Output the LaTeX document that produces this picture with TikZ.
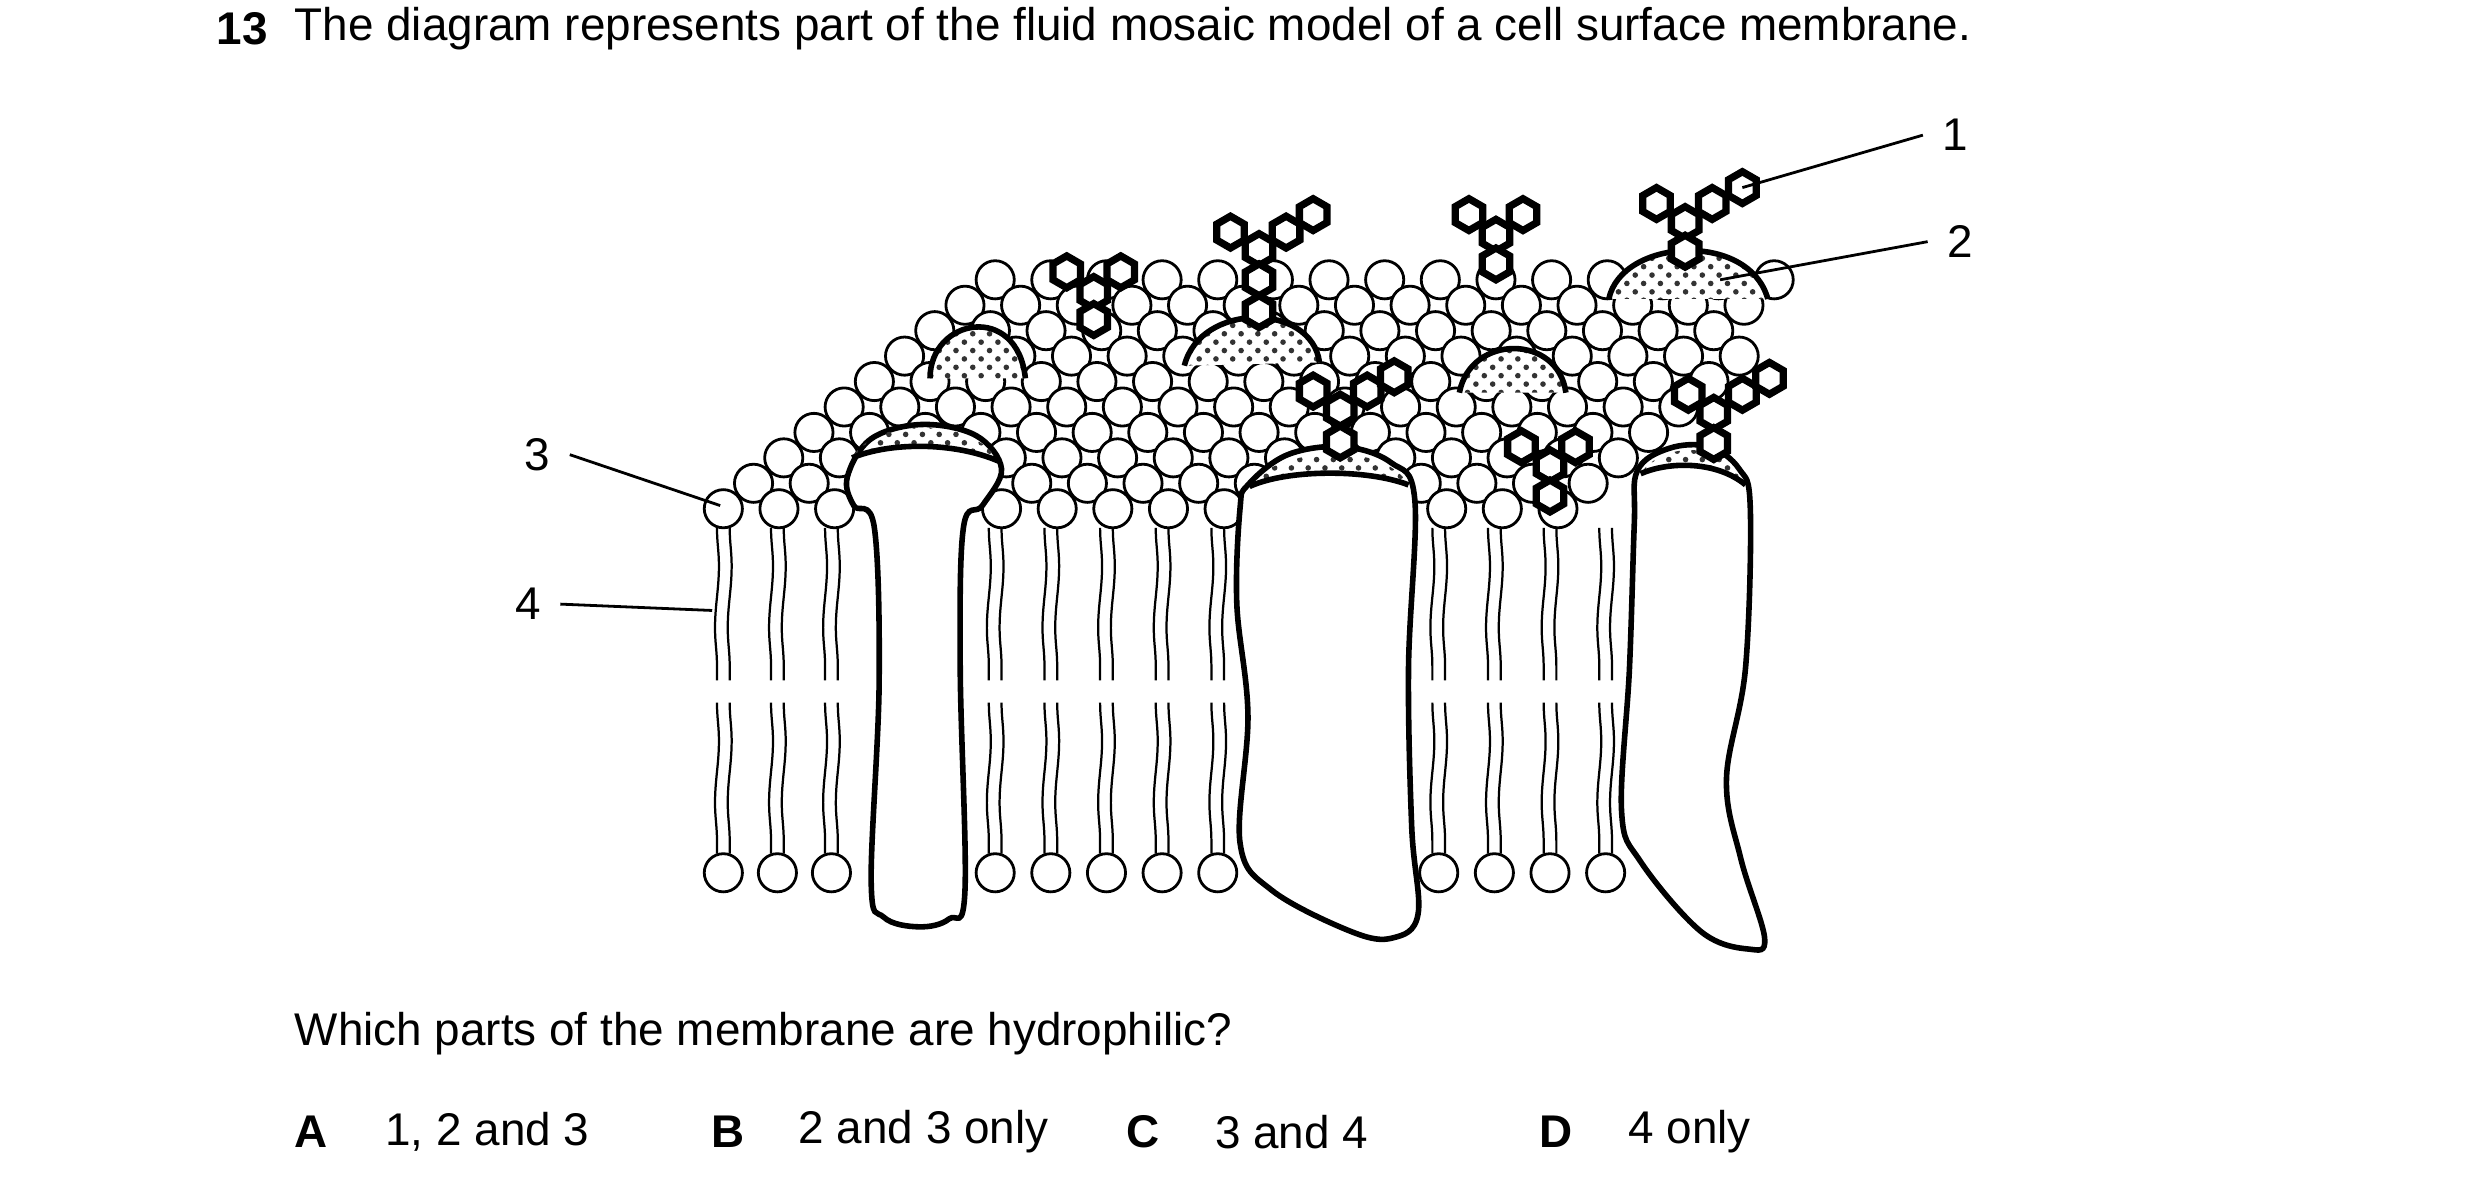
\documentclass[tikz,border=0pt]{standalone}
\usepackage{fontspec}
\setmainfont{Liberation Sans}
\usetikzlibrary{patterns,decorations.pathmorphing}
\tikzset{
  head/.style={draw=black,fill=white,line width=0.5pt},
  tail/.style={line width=0.4pt,decorate,decoration={snake,amplitude=0.35pt,segment length=22pt}},
  prot/.style={draw=black,fill=white,line width=1pt},
  stip/.style={pattern=crosshatch dots,pattern color=black!80},
  hexa/.style={draw=black,line width=1.3pt,fill=white},
  lbl/.style={font=\fontsize{8.2}{10}\selectfont},
  lead/.style={line width=0.5pt}
}
\newcommand{\hexat}[2]{\draw[hexa] (#1,#2) +(30:10) -- +(90:10) -- +(150:10) -- +(210:10) -- +(270:10) -- +(330:10) -- cycle;}
\begin{document}
\begin{tikzpicture}[x=0.01cm,y=-0.01cm]
\useasboundingbox (0,0) rectangle (1560,748);

% question text
\node[lbl,anchor=west,font=\fontsize{8.2}{10}\selectfont\bfseries] (num) at (124,18) {13};
\node[lbl,anchor=west] (title) at (173,18) {The diagram represents part of the fluid mosaic model of a cell surface membrane.};

% tails of the front row
\foreach \x in {455,489,523,626,661,696,731,766,905,940,975,1010}{
  \draw[tail] (\x-4,332) -- (\x-4,428);
  \draw[tail] (\x+4,332) -- (\x+4,428);
  \draw[tail] (\x-4,442) -- (\x-4,537);
  \draw[tail] (\x+4,442) -- (\x+4,537);
  \draw[head] (\x,549) circle (12);
}

% heads, back rows first
\foreach \k in {9,...,0}{
  \foreach \j in {0,...,17}{
    \pgfmathsetmacro{\hx}{455+19*\k+35*\j}
    \pgfmathsetmacro{\hy}{320-16*\k}
    \pgfmathsetmacro{\hend}{1012+14*\k}
    \ifdim \hx pt<\hend pt
      \draw[head] (\hx,\hy) circle (12);
    \fi
  }
}

% peripheral proteins
\fill[white] (585,238) .. controls (585,200) and (640,190) .. (645,238) -- cycle;
\fill[stip] (585,238) .. controls (585,200) and (640,190) .. (645,238) -- cycle;
\draw[line width=1pt] (585,238) .. controls (585,200) and (640,190) .. (645,238);
\fill[white] (745,230) .. controls (755,190) and (825,190) .. (830,228) -- cycle;
\fill[stip] (745,230) .. controls (755,190) and (825,190) .. (830,228) -- cycle;
\draw[line width=1pt] (745,230) .. controls (755,190) and (825,190) .. (830,228);
\fill[white] (918,247) .. controls (925,210) and (980,210) .. (985,247) -- cycle;
\fill[stip] (918,247) .. controls (925,210) and (980,210) .. (985,247) -- cycle;
\draw[line width=1pt] (918,247) .. controls (925,210) and (980,210) .. (985,247);
\fill[white] (1012,188) .. controls (1020,150) and (1100,145) .. (1112,188) -- cycle;
\fill[stip] (1012,188) .. controls (1020,150) and (1100,145) .. (1112,188) -- cycle;
\draw[line width=1pt] (1012,188) .. controls (1020,150) and (1100,145) .. (1112,188);

% transmembrane proteins
\draw[prot] plot[smooth cycle,tension=0.6] coordinates {(533,300) (548,276) (580,267) (614,274) (630,295) (618,318) (606,332) (604,420) (607,560) (597,578) (578,583) (556,577) (548,555) (553,430) (550,332) (537,318)};
\fill[stip] (536,288) .. controls (550,262) and (612,262) .. (628,290) .. controls (600,278) and (560,278) .. (536,288);
\draw[line width=1pt] (536,288) .. controls (560,278) and (600,278) .. (628,290);
\draw[prot] plot[smooth cycle,tension=0.6] coordinates {(785,305) (810,286) (845,281) (875,291) (890,315) (886,420) (888,520) (892,575) (876,590) (850,586) (800,560) (780,530) (785,450) (778,380) (780,320)};
\fill[stip] (786,306) .. controls (800,282) and (870,276) .. (886,305) .. controls (860,295) and (810,295) .. (786,306);
\draw[line width=1pt] (786,306) .. controls (810,295) and (860,295) .. (886,305);
\draw[prot] plot[smooth cycle,tension=0.6] coordinates {(1030,296) (1050,282) (1075,281) (1094,295) (1101,320) (1098,420) (1086,490) (1095,540) (1110,590) (1100,597) (1070,586) (1032,542) (1020,510) (1025,420) (1028,330)};
\fill[stip] (1032,298) .. controls (1045,278) and (1085,276) .. (1098,305) .. controls (1080,290) and (1050,290) .. (1032,298);
\draw[line width=1pt] (1032,298) .. controls (1050,290) and (1080,290) .. (1098,305);

% carbohydrate chains
\hexat{671}{171}\hexat{705}{171}\hexat{688}{184}\hexat{688}{201}
\hexat{774}{146}\hexat{809}{146}\hexat{826}{135}\hexat{792}{157}\hexat{792}{176}\hexat{792}{196}
\hexat{924}{135}\hexat{958}{135}\hexat{941}{148}\hexat{941}{166}
\hexat{1042}{128}\hexat{1077}{128}\hexat{1096}{118}\hexat{1060}{140}\hexat{1060}{158}
\hexat{826}{246}\hexat{860}{246}\hexat{877}{237}\hexat{843}{258}\hexat{843}{278}
\hexat{957}{281}\hexat{991}{281}\hexat{975}{293}\hexat{975}{312}
\hexat{1062}{248}\hexat{1096}{248}\hexat{1113}{238}\hexat{1078}{260}\hexat{1078}{279}

% labels
\node[lbl] (l1) at (1230,85) {1};
\node[lbl] (l2) at (1233,152) {2};
\node[lbl] (l3) at (338,286) {3};
\node[lbl] (l4) at (332,380) {4};
\coordinate (t1) at (1096,118);
\coordinate (t2) at (1082,176);
\coordinate (t3) at (453,318);
\coordinate (t4) at (448,384);
\draw[lead] (l1.west) -- (t1);
\draw[lead] (l2.west) -- (t2);
\draw[lead] (l3.east) -- (t3);
\draw[lead] (l4.east) -- (t4);

% question and options
\node[lbl,anchor=west] (q) at (173,650) {Which parts of the membrane are hydrophilic?};
\node[lbl,anchor=west,font=\fontsize{8.2}{10}\selectfont\bfseries] (oA) at (173,712) {A};
\node[lbl,anchor=west] (tA) at (230,712) {1, 2 and 3};
\node[lbl,anchor=west,font=\fontsize{8.2}{10}\selectfont\bfseries] (oB) at (435,712) {B};
\node[lbl,anchor=west] (tB) at (490,712) {2 and 3 only};
\node[lbl,anchor=west,font=\fontsize{8.2}{10}\selectfont\bfseries] (oC) at (696,712) {C};
\node[lbl,anchor=west] (tC) at (752,712) {3 and 4};
\node[lbl,anchor=west,font=\fontsize{8.2}{10}\selectfont\bfseries] (oD) at (956,712) {D};
\node[lbl,anchor=west] (tD) at (1012,712) {4 only};
\end{tikzpicture}
\end{document}
